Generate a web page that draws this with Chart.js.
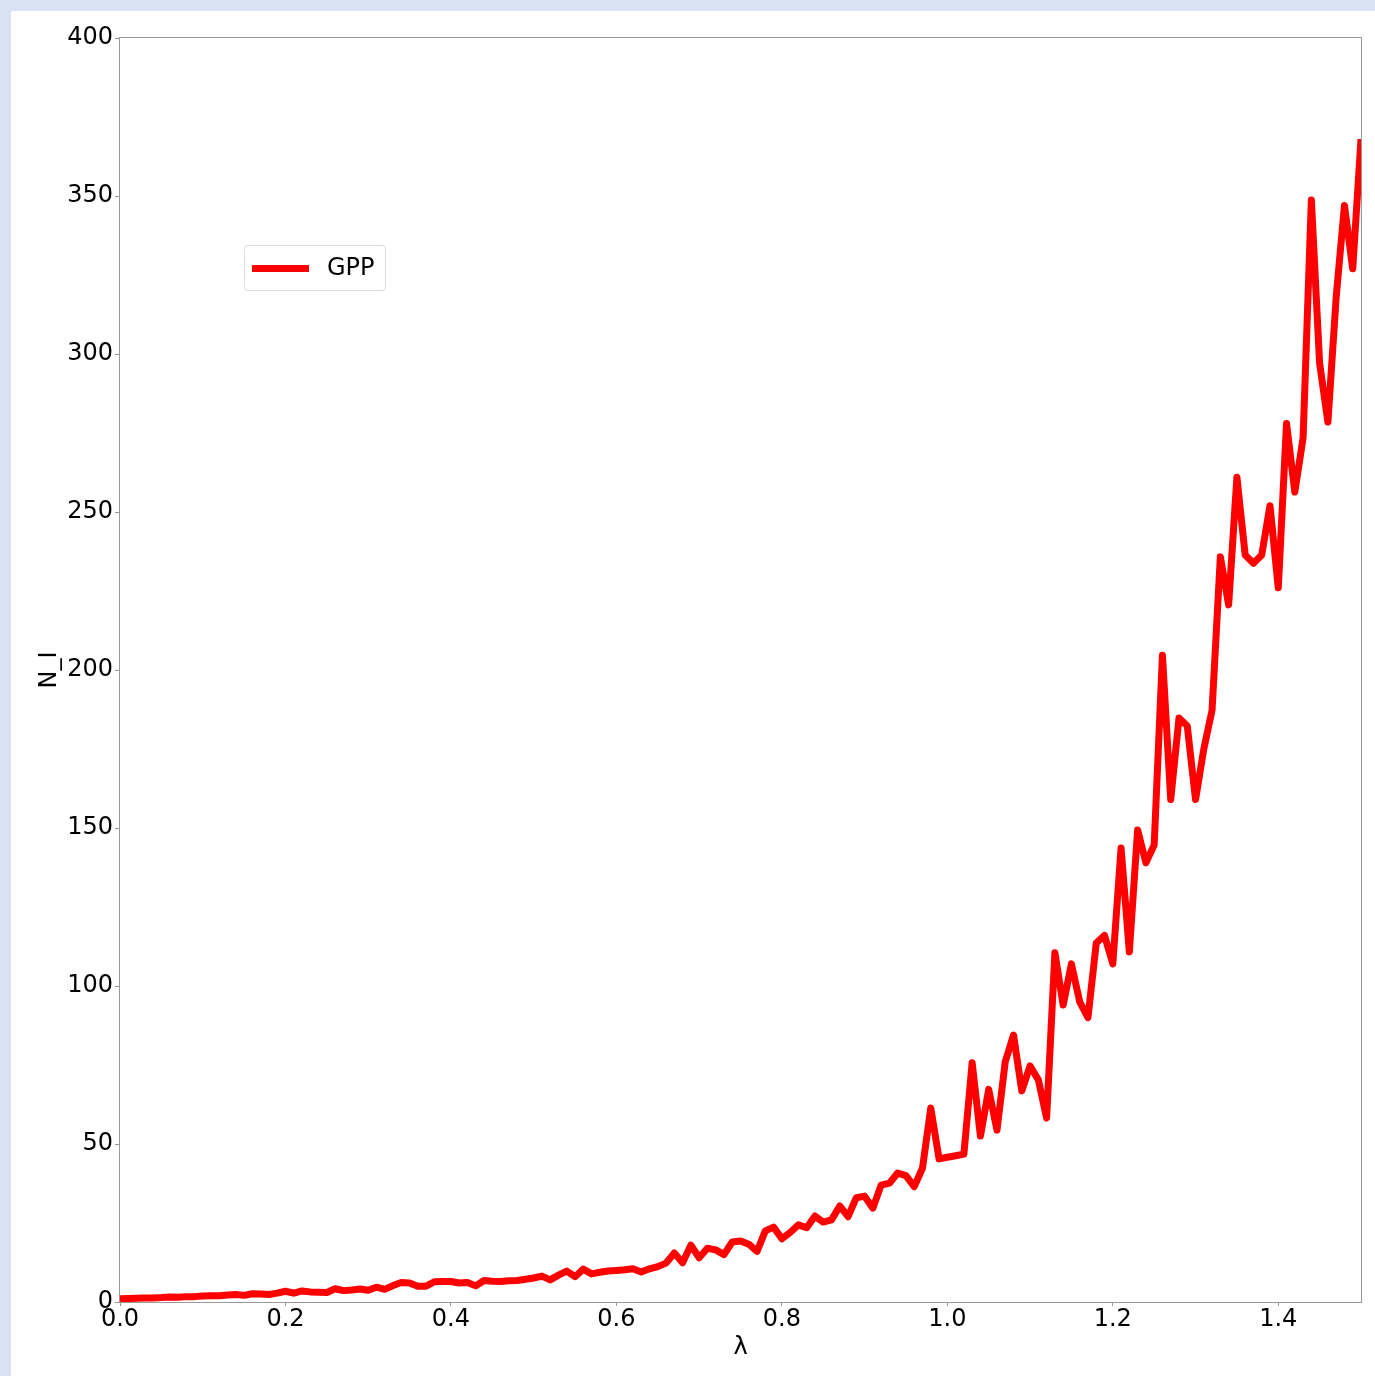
<!DOCTYPE html>
<html>
<head>
<meta charset="utf-8">
<script src="https://cdn.jsdelivr.net/npm/chart.js@4.4.0/dist/chart.umd.min.js"></script>
<style>
  body { margin: 0; background: #d9e2f3; width: 1375px; height: 1376px; overflow: hidden; position: relative; font-family: "DejaVu Sans", sans-serif; }
  #wrap { position: absolute; left: 11px; top: 11px; width: 1364px; height: 1365px; background: #fff; }
  #legend { position: absolute; left: 233px; top: 234px; width: 140px; height: 44px; border: 1px solid #dcdcdc; border-radius: 4px; background: rgba(255,255,255,0.8); }
  #legend .swatch { position: absolute; left: 7px; top: 19px; width: 57px; height: 7px; background: #ff0000; }
  #legend .label { position: absolute; left: 82px; top: 6px; font-size: 24px; line-height: 30px; color: #000; }
</style>
</head>
<body>
<div id="wrap">
  <canvas id="gppChart" width="1364" height="1365"></canvas>
  <div id="legend"><div class="swatch"></div><div class="label">GPP</div></div>
</div>
<script>
// lambda runs 0.00 .. 1.50 in steps of 0.01
const lambdaStep = 0.01;
const gppValues = [
  1.0, 1.1, 1.2, 1.3, 1.3, 1.4, 1.6, 1.5, 1.7, 1.7,
  1.9, 2.0, 2.0, 2.2, 2.4, 2.1, 2.6, 2.5, 2.4, 2.8,
  3.4, 2.8, 3.5, 3.2, 3.1, 3.0, 4.2, 3.6, 3.8, 4.1,
  3.7, 4.7, 4.0, 5.2, 6.2, 6.0, 5.0, 5.0, 6.4, 6.5,
  6.5, 6.0, 6.2, 5.1, 6.8, 6.6, 6.5, 6.7, 6.8, 7.2,
  7.6, 8.2, 7.0, 8.5, 9.8, 8.0, 10.4, 8.9, 9.4, 9.8,
  10.0, 10.2, 10.5, 9.5, 10.5, 11.2, 12.3, 15.5, 12.4, 18.0,
  14.0, 17.0, 16.5, 15.0, 19.0, 19.3, 18.3, 16.0, 22.5, 23.7,
  20.0, 22.0, 24.4, 23.5, 27.2, 25.3, 26.0, 30.4, 27.0, 33.0,
  33.5, 29.7, 37.0, 37.6, 40.8, 40.0, 36.5, 42.4, 61.4, 45.3,
  45.8, 46.3, 46.8, 75.7, 52.5, 67.3, 54.4, 76.0, 84.5, 66.8,
  74.7, 70.3, 58.2, 110.5, 94.0, 107.0, 95.0, 90.0, 113.6, 116.0,
  107.0, 143.7, 110.8, 149.4, 139.0, 144.6, 204.7, 159.0, 184.8, 182.3,
  159.0, 175.0, 187.3, 235.8, 220.6, 261.0, 236.4, 233.8, 236.4, 252.0,
  226.0, 278.0, 256.3, 273.4, 348.7, 297.0, 278.5, 318.0, 347.0, 327.0,
  368.0
];
const xTicks = [0.0, 0.2, 0.4, 0.6, 0.8, 1.0, 1.2, 1.4];
const yTicks = [0, 50, 100, 150, 200, 250, 300, 350, 400];

const points = gppValues.map((v, i) => ({ x: +(i * lambdaStep).toFixed(2), y: v }));

const frame = {
  id: "frame",
  afterDraw(chart) {
    const { ctx, chartArea: a } = chart;
    ctx.save();
    ctx.strokeStyle = "#999";
    ctx.lineWidth = 1;
    ctx.strokeRect(Math.round(a.left) - 0.5, Math.round(a.top) - 0.5, Math.round(a.right - a.left) + 1, Math.round(a.bottom - a.top) + 1);
    ctx.restore();
  }
};

const tickFont = { family: "DejaVu Sans", size: 24 };

new Chart(document.getElementById("gppChart").getContext("2d"), {
  type: "line",
  data: {
    datasets: [{
      label: "GPP",
      data: points,
      borderColor: "#ff0000",
      borderWidth: 7,
      pointRadius: 0,
      tension: 0,
      fill: false,
      clip: 0,
      borderJoinStyle: "round"
    }]
  },
  options: {
    responsive: false,
    animation: false,
    layout: { padding: { top: 27, right: 14, left: 0, bottom: 0 } },
    plugins: { legend: { display: false }, tooltip: { enabled: false } },
    scales: {
      x: {
        type: "linear",
        min: 0,
        max: 1.5,
        afterBuildTicks: s => { s.ticks = xTicks.map(v => ({ value: v })); },
        afterFit: s => { s.height = 74; },
        border: { display: false },
        grid: { drawOnChartArea: false, tickLength: 4, color: "#999" },
        ticks: { font: tickFont, color: "#000", padding: -1, maxRotation: 0, callback: v => v.toFixed(1) },
        title: { display: true, text: "λ", font: tickFont, color: "#000", padding: { top: 14, bottom: 14 } }
      },
      y: {
        min: 0,
        max: 400,
        afterBuildTicks: s => { s.ticks = yTicks.map(v => ({ value: v })); },
        afterFit: s => { s.width = 109; },
        border: { display: false },
        grid: { drawOnChartArea: false, tickLength: 5, color: "#999" },
        ticks: { font: tickFont, color: "#000", padding: 2 },
        title: { display: true, text: "N_I", font: tickFont, color: "#000", padding: { top: 24, bottom: 24 } }
      }
    }
  },
  plugins: [frame]
});
</script>
</body>
</html>
